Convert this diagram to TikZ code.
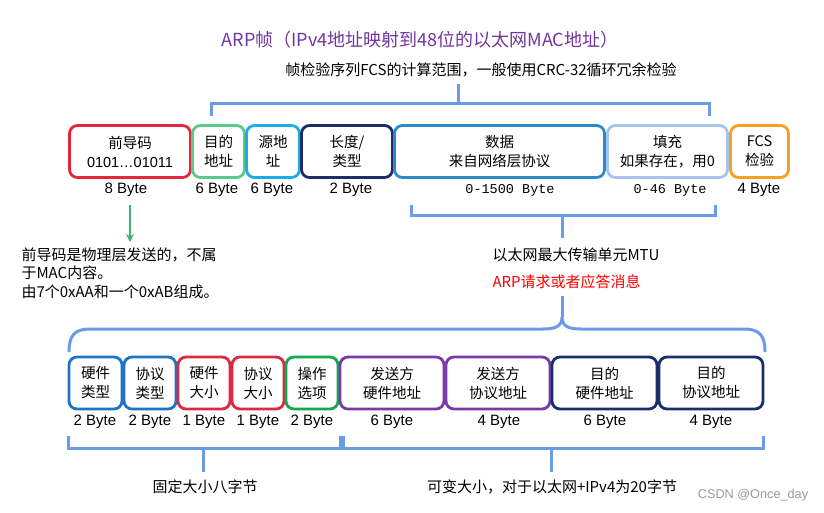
\documentclass[tikz,border=0pt]{standalone}
\usepackage{fontspec}
\setmainfont{Liberation Sans}
\newfontfamily\cjk{Noto Sans CJK SC}
\newfontfamily\monof{Liberation Mono}
\usetikzlibrary{arrows.meta}
\definecolor{cpre}{HTML}{E2283E}
\definecolor{cdst}{HTML}{5CC98C}
\definecolor{csrc}{HTML}{1AAEE8}
\definecolor{cnavy}{HTML}{1A2F6A}
\definecolor{cdata}{HTML}{2A8BCB}
\definecolor{cpad}{HTML}{A6C4EE}
\definecolor{cfcs}{HTML}{FA9E1E}
\definecolor{chw}{HTML}{1F74C4}
\definecolor{cred}{HTML}{DC2A44}
\definecolor{cgreen}{HTML}{12A84E}
\definecolor{cpurple}{HTML}{7A3AA8}
\definecolor{cbrace}{HTML}{6A9BE6}
\definecolor{ctitle}{HTML}{7035A0}
\definecolor{carrow}{HTML}{3CB371}
\begin{document}
\begin{tikzpicture}[x=1pt,y=-1pt,
  fbox/.style={draw=#1, line width=2.8pt, rounded corners=8pt, inner sep=0pt,
    minimum height=52pt, align=center, font=\cjk\fontsize{14.5}{19}\selectfont},
  bytelab/.style={font=\fontsize{15}{18}\selectfont},
  monolab/.style={font=\monof\fontsize{13.5}{16}\selectfont},
  cjktext/.style={font=\cjk\fontsize{15}{18.5}\selectfont},
  brace/.style={draw=cbrace, line width=3pt},
  ]
\useasboundingbox (0,0) rectangle (824,512);

% title
\node[font=\cjk\fontsize{18}{20}\selectfont, text=ctitle] (title) at (420,40) {ARP帧（IPv4地址映射到48位的以太网MAC地址）};
\node[cjktext] (fcsnote) at (481,70) {帧检验序列FCS的计算范围，一般使用CRC-32循环冗余检验};

% top brace
\coordinate (tbl) at (211,116);
\coordinate (tbr) at (709,116);
\coordinate (tbm) at (458,103);
\coordinate (tbt) at (458,84);
\draw[brace] (tbl) -- (211,103) -- (709,103) -- (tbr);
\draw[brace] (tbm) -- (tbt);

% top row boxes
\node[fbox=cpre, minimum width=121pt] (pre) at (130,151.5) {前导码\\{\rmfamily 0101…01011}};
\node[fbox=cdst, minimum width=52pt] (dst) at (218.5,151.5) {目的\\地址};
\node[fbox=csrc, minimum width=53pt] (src) at (273,151.5) {源地\\址};
\node[fbox=cnavy, minimum width=91pt] (len) at (347,151.5) {长度/\\类型};
\node[fbox=cdata, minimum width=210pt] (data) at (499.5,151.5) {数据\\来自网络层协议};
\node[fbox=cpad, minimum width=120pt] (pad) at (667.5,151.5) {填充\\如果存在，用0};
\node[fbox=cfcs, minimum width=58pt] (fcs) at (759.5,151.5) {FCS\\检验};

% top byte labels
\node[bytelab] (bpre) at (126,190) {8 Byte};
\node[bytelab] (bdst) at (217,190) {6 Byte};
\node[bytelab] (bsrc) at (272,190) {6 Byte};
\node[bytelab] (blen) at (351,190) {2 Byte};
\node[monolab] (bdata) at (510,190) {0-1500 Byte};
\node[monolab] (bpad) at (670,190) {0-46 Byte};
\node[bytelab] (bfcs) at (759,190) {4 Byte};

% preamble note
\node[cjktext, align=left, anchor=west] (prenote) at (18,273) {前导码是物理层发送的，不属\\于MAC内容。\\由7个0xAA和一个0xAB组成。};
\coordinate (arrs) at (130,205);
\coordinate (arre) at (130,242);
\draw[carrow, line width=2.5pt, -{Stealth[length=8pt,width=8pt]}] (arrs) -- (arre);

% MTU brace
\coordinate (mbl) at (411,205);
\coordinate (mbr) at (715,205);
\coordinate (mbm) at (562,215);
\coordinate (mbt) at (562,238);
\draw[brace] (mbl) -- (411,215) -- (715,215) -- (mbr);
\draw[brace] (mbm) -- (mbt);

\node[cjktext, anchor=west] (mtu) at (489,255) {以太网最大传输单元MTU};
\node[cjktext, anchor=west, text=red] (arpmsg) at (489,282) {ARP请求或者应答消息};

% curly brace
\coordinate (cbl) at (69,352);
\coordinate (cbr) at (765,352);
\coordinate (cbt) at (562,317);
\coordinate (cbtop) at (562,296);
\draw[brace] (cbl) .. controls (69,336) and (74,329) .. (90,329) -- (543,329)
  .. controls (556,329) and (562,326) .. (cbt)
  .. controls (562,326) and (568,329) .. (581,329) -- (744,329)
  .. controls (760,329) and (765,336) .. (cbr);
\draw[brace] (cbt) -- (cbtop);

% bottom row boxes
\node[fbox=chw, minimum width=53pt] (hwt) at (95.5,383) {硬件\\类型};
\node[fbox=chw, minimum width=52pt] (prt) at (150,383) {协议\\类型};
\node[fbox=cred, minimum width=52pt] (hws) at (204,383) {硬件\\大小};
\node[fbox=cred, minimum width=52pt] (prs) at (258,383) {协议\\大小};
\node[fbox=cgreen, minimum width=52pt] (op) at (312,383) {操作\\选项};
\node[fbox=cpurple, minimum width=104pt] (sha) at (392,383) {发送方\\硬件地址};
\node[fbox=cpurple, minimum width=104pt] (spa) at (498,383) {发送方\\协议地址};
\node[fbox=cnavy, minimum width=105pt] (tha) at (604.5,383) {目的\\硬件地址};
\node[fbox=cnavy, minimum width=104pt] (tpa) at (711,383) {目的\\协议地址};

% bottom byte labels
\node[bytelab] (bhwt) at (95,422) {2 Byte};
\node[bytelab] (bprt) at (150,422) {2 Byte};
\node[bytelab] (bhws) at (204,422) {1 Byte};
\node[bytelab] (bprs) at (258,422) {1 Byte};
\node[bytelab] (bop) at (312,422) {2 Byte};
\node[bytelab] (bsha) at (392,422) {6 Byte};
\node[bytelab] (bspa) at (499,422) {4 Byte};
\node[bytelab] (btha) at (605,422) {6 Byte};
\node[bytelab] (btpa) at (711,422) {4 Byte};

% bottom braces
\coordinate (lbl) at (68,436);
\coordinate (lbr) at (340,436);
\coordinate (lbm) at (203,448);
\coordinate (lbb) at (203,472);
\draw[brace] (lbl) -- (68,448) -- (340,448) -- (lbr);
\coordinate (rbl) at (343,436);
\coordinate (rbr) at (763,436);
\coordinate (rbm) at (551,448);
\coordinate (rbb) at (551,472);
\draw[brace] (rbl) -- (343,448) -- (763,448) -- (rbr);
\draw[brace] (lbm) -- (lbb);
\draw[brace] (rbm) -- (rbb);

\node[cjktext] (fixed) at (205,487) {固定大小八字节};
\node[cjktext] (var) at (552,487) {可变大小，对于以太网+IPv4为20字节};

\node[text=gray!80, font=\fontsize{12.7}{14}\selectfont] (mark) at (753,495) {CSDN @Once\_day};
\end{tikzpicture}
\end{document}
